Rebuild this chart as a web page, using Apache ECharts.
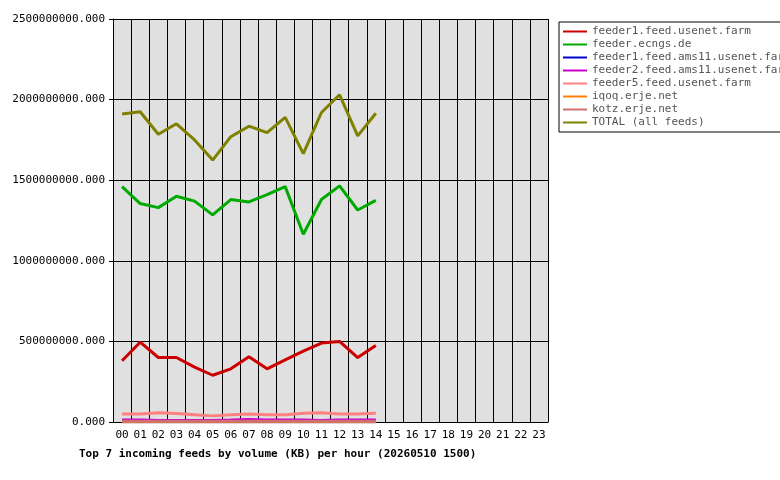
<!DOCTYPE html>
<html><head><meta charset="utf-8">
<script src="https://cdn.jsdelivr.net/npm/echarts@6/dist/echarts.min.js"></script>
<style>body{margin:0;background:#fff}#c{width:780px;height:480px}</style>
</head><body><div id="c"></div>
<script>
const hours = ['00','01','02','03','04','05','06','07','08','09','10','11','12','13','14','15','16','17','18','19','20','21','22','23'];
const feeder1 = [380,495,400,400,340,290,330,405,330,385,440,490,500,400,475].map(v => v * 1e6);
const ecngs = [1460,1355,1330,1400,1370,1285,1380,1365,1410,1460,1165,1380,1465,1315,1375].map(v => v * 1e6);
const ams11a = [2,2,2,2,2,2,2,2,2,2,2,2,2,2,2].map(v => v * 1e6);
const ams11b = [12,12,10,10,10,10,12,16,12,12,12,10,12,12,12].map(v => v * 1e6);
const feeder5 = [50,50,58,52,45,38,45,50,45,45,55,58,50,50,55].map(v => v * 1e6);
const iqoq = [1,1,1,1,1,1,1,1,1,1,1,1,1,1,1].map(v => v * 1e6);
const kotz = [5,5,5,5,5,5,5,5,5,5,5,5,5,5,5].map(v => v * 1e6);
const total = [1910,1925,1785,1850,1750,1625,1770,1835,1795,1890,1665,1920,2030,1775,1915].map(v => v * 1e6);

const names = ['feeder1.feed.usenet.farm','feeder.ecngs.de','feeder1.feed.ams11.usenet.farm','feeder2.feed.ams11.usenet.farm','feeder5.feed.usenet.farm','iqoq.erje.net','kotz.erje.net','TOTAL (all feeds)'];
const colors = ['#cc0000','#00aa00','#0000cc','#cc00cc','#ff8080','#ff8000','#cc7070','#808000'];
const datas = [feeder1, ecngs, ams11a, ams11b, feeder5, iqoq, kotz, total];
const font = 'DejaVu Sans Mono';

echarts.init(document.getElementById('c')).setOption({
    animation: false,
    textStyle: { fontFamily: font },
    title: {
        text: 'Top 7 incoming feeds by volume (KB) per hour (20260510 1500)',
        left: 74, top: 444,
        textStyle: { fontFamily: font, fontSize: 11, fontWeight: 'bold', color: '#000' }
    },
    grid: { left: 113, top: 19, width: 435, height: 403 },
    legend: {
        orient: 'vertical', left: 559, top: 22,
        itemWidth: 24, itemHeight: 6, itemGap: 2,
        borderColor: '#000', borderWidth: 1, padding: [4, 6, 4, 4],
        icon: 'path://M0,2H24V4H0Z',
        data: names,
        formatter: n => n,
        textStyle: { fontFamily: font, fontSize: 11, rich: {} },
        selectedMode: false
    },
    xAxis: {
        type: 'category', data: hours, boundaryGap: true,
        axisLine: { lineStyle: { color: '#000' } },
        axisTick: { show: false },
        axisLabel: { color: '#000', fontFamily: font, fontSize: 11, interval: 0 },
        splitLine: { show: true, interval: 0, lineStyle: { color: '#000' } },
        splitArea: { show: false }
    },
    yAxis: {
        type: 'value', min: 0, max: 2500000000, interval: 500000000,
        axisLine: { show: true, lineStyle: { color: '#000' } },
        axisTick: { show: true, length: 4, lineStyle: { color: '#000' } },
        axisLabel: { color: '#000', fontFamily: font, fontSize: 11, formatter: v => v + '.000' },
        splitLine: { lineStyle: { color: '#000' } }
    },
    series: names.map((n, i) => ({
        type: 'line', name: n, data: datas[i], symbol: 'none',
        itemStyle: { color: colors[i] },
        lineStyle: { color: colors[i], width: 3 }
    })),
    graphic: [{
        type: 'rect', z: -1, shape: { x: 113, y: 19, width: 435, height: 403 },
        style: { fill: '#e0e0e0' }
    }]
});
</script></body></html>
